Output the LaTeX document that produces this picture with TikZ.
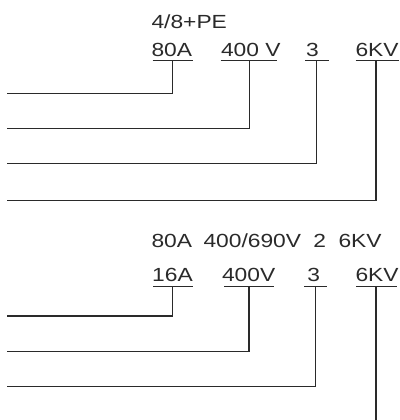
\documentclass[tikz,border=0pt]{standalone}
\usepackage{fontspec}
\setmainfont{Liberation Sans}[FakeStretch=1.2]
\definecolor{ink}{HTML}{2A2A2A}
\begin{document}
\begin{tikzpicture}[x=1pt,y=1pt,
  lbl/.style={anchor=base west,inner sep=0pt,outer sep=0pt,text=ink,font=\fontsize{19}{22}\selectfont},
  wire/.style={draw=ink,line width=1.2pt},
  uline/.style={draw=ink,line width=1.2pt}]
\useasboundingbox (0,0) rectangle (399,420);
% ---------- top group ----------
\node[lbl] (pe) at (151.5,391.7) {4/8+PE};
\node[lbl] (a1) at (151.5,363.3) {80A};
\node[lbl] (v1) at (221,363.3) {400 V};
\node[lbl] (p1) at (306,363.3) {3};
\node[lbl] (k1) at (355.5,363.3) {6KV};
\draw[uline] (152.7,359.5) -- (192.7,359.5);
\draw[uline] (220.7,359.5) -- (277.3,359.5);
\draw[uline] (305,359.5) -- (329,359.5);
\draw[uline] (355.5,359.5) -- (399,359.5);
\coordinate (ua1) at (172.7,359.5);
\coordinate (uv1) at (249.2,359.5);
\coordinate (up1) at (316.8,359.5);
\coordinate (uk1) at (376,359.5);
\coordinate (la1) at (7.3,326.7);
\coordinate (lv1) at (7.3,291.3);
\coordinate (lp1) at (7.3,256.3);
\coordinate (lk1) at (7.3,219.3);
\draw[wire] (ua1) |- (la1);
\draw[wire] (uv1) |- (lv1);
\draw[wire] (up1) |- (lp1);
\draw[wire] (uk1) |- (lk1);
% ---------- bottom group ----------
\node[lbl] (r3a) at (151.5,172) {80A};
\node[lbl] (r3b) at (203.5,172) {400/690V};
\node[lbl] (r3c) at (313.3,172) {2};
\node[lbl] (r3d) at (338.5,172) {6KV};
\node[lbl] (a2) at (152.2,138.7) {16A};
\node[lbl] (v2) at (222,138.7) {400V};
\node[lbl] (p2) at (307.3,138.7) {3};
\node[lbl] (k2) at (355.5,138.7) {6KV};
\draw[uline] (153,133.7) -- (193,133.7);
\draw[uline] (224,133.7) -- (274,133.7);
\draw[uline] (304,133.7) -- (327,133.7);
\draw[uline] (356,133.7) -- (397,133.7);
\coordinate (ua2) at (172.7,133.7);
\coordinate (uv2) at (249,133.7);
\coordinate (up2) at (315.8,133.7);
\coordinate (uk2) at (376,133.7);
\coordinate (la2) at (7.3,104);
\coordinate (lv2) at (7.3,68.3);
\coordinate (lp2) at (7.3,33.3);
\coordinate (lk2) at (376,0);
\draw[wire] (ua2) |- (la2);
\draw[wire] (uv2) |- (lv2);
\draw[wire] (up2) |- (lp2);
\draw[wire] (uk2) -- (lk2);
\end{tikzpicture}
\end{document}
